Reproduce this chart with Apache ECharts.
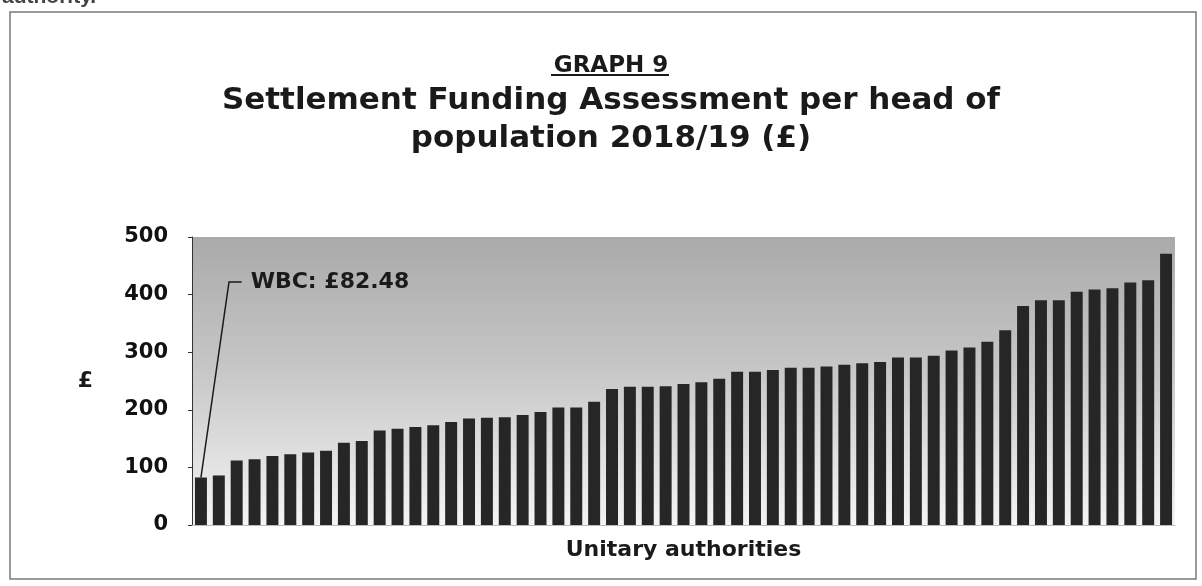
<!DOCTYPE html>
<html>
<head>
<meta charset="utf-8">
<script src="https://cdn.jsdelivr.net/npm/echarts@6/dist/echarts.min.js"></script>
<style>
html,body{margin:0;padding:0;background:#fff;}
#c{width:1202px;height:586px;}
</style>
</head>
<body>
<div id="c"></div>
<script>
// ---- data ----
var categories = [];
var values = [82.48, 86, 112, 114, 120, 123, 126, 129, 143, 146, 164, 167, 170, 173, 179,
  185, 186, 187, 191, 196, 204, 204, 214, 236, 240, 240, 241, 245, 248, 254,
  266, 266, 269, 273, 273, 275, 278, 281, 283, 291, 291, 294, 303, 308, 318,
  338, 380, 390, 390, 405, 409, 411, 421, 425, 471];
for (var i = 0; i < values.length; i++) categories.push(i === 0 ? 'WBC' : 'UA ' + (i + 1));
var yTicks = [0, 100, 200, 300, 400, 500];
var annotationText = 'WBC: £82.48';
var annotationLevel = 422;   // value level of the leader line's elbow

var FONT = '"DejaVu Sans", sans-serif';
var TITLE_X = 606;
var chart = echarts.init(document.getElementById('c'), null, {renderer: 'canvas'});

var baseGraphics = [
  {
    type: 'rect', z: -10, silent: true,
    shape: {x: 10, y: 12, width: 1186, height: 567},
    style: {fill: 'none', stroke: '#7a7a7a', lineWidth: 1.5}
  },
  {
    type: 'text', z: -10, silent: true, x: 2, y: -13,
    style: {text: 'authority.', font: 'bold 21px "Liberation Sans", Arial, sans-serif', fill: '#444'}
  }
];

var option = {
  animation: false,
  backgroundColor: '#ffffff',
  title: [
    {
      text: 'GRAPH 9', left: TITLE_X, textAlign: 'center', top: 50,
      textStyle: {fontFamily: FONT, fontWeight: 'bold', fontSize: 23, color: '#1a1a1a'}
    },
    {
      text: 'Settlement Funding Assessment per head of',
      left: TITLE_X, textAlign: 'center', top: 80,
      textStyle: {fontFamily: FONT, fontWeight: 'bold', fontSize: 31, color: '#1a1a1a'}
    },
    {
      text: 'population 2018/19 (£)',
      left: TITLE_X, textAlign: 'center', top: 118,
      textStyle: {fontFamily: FONT, fontWeight: 'bold', fontSize: 31, color: '#1a1a1a'}
    }
  ],
  grid: {
    left: 192, right: 27, top: 237, bottom: 61,
    show: true, borderWidth: 0,
    backgroundColor: {
      type: 'linear', x: 0, y: 0, x2: 0, y2: 1,
      colorStops: [
        {offset: 0, color: '#aaaaaa'},
        {offset: 0.45, color: '#c6c6c6'},
        {offset: 1, color: '#f4f4f4'}
      ]
    }
  },
  xAxis: {
    type: 'category', data: categories,
    name: 'Unitary authorities', nameLocation: 'middle', nameGap: 14,
    nameTextStyle: {fontFamily: FONT, fontWeight: 'bold', fontSize: 22, color: '#1a1a1a'},
    axisLine: {show: true, lineStyle: {color: '#bbbbbb', width: 1}},
    axisTick: {show: false},
    axisLabel: {show: false},
    splitLine: {show: false}
  },
  yAxis: {
    type: 'value', min: yTicks[0], max: yTicks[yTicks.length - 1], interval: yTicks[1] - yTicks[0],
    name: '£', nameLocation: 'middle', nameGap: 99, nameRotate: 0,
    nameTextStyle: {fontFamily: FONT, fontWeight: 'bold', fontSize: 22, color: '#1a1a1a'},
    axisLine: {show: true, lineStyle: {color: '#333333', width: 1}},
    axisTick: {show: true, inside: false, length: 4, lineStyle: {color: '#333333'}},
    axisLabel: {fontFamily: FONT, fontWeight: 'bold', fontSize: 21, color: '#111111', margin: 24},
    splitLine: {show: false}
  },
  series: [{
    type: 'bar', data: values,
    barWidth: '67%',
    itemStyle: {color: '#262626'}
  }],
  graphic: baseGraphics
};
chart.setOption(option);

// leader line + annotation derived from the chart's scales
var p0 = chart.convertToPixel({seriesIndex: 0}, [0, values[0]]);
var p1 = chart.convertToPixel({seriesIndex: 0}, [1, annotationLevel]);
var step = p1[0] - p0[0];
var elbowX = p0[0] + 1.57 * step;
var endX = p0[0] + 2.28 * step;
var yA = p1[1];
var ulHalf = 59;
chart.setOption({
  graphic: baseGraphics.concat([
    {
      type: 'line', silent: true,
      shape: {x1: TITLE_X + 4 - ulHalf, y1: 75, x2: TITLE_X + 4 + ulHalf, y2: 75},
      style: {stroke: '#1a1a1a', lineWidth: 2}
    },
    {
      type: 'polyline', silent: true, z: 100,
      shape: {points: [[p0[0], p0[1]], [elbowX, yA], [endX, yA]]},
      style: {stroke: '#1a1a1a', lineWidth: 1.5, fill: 'none'}
    },
    {
      type: 'text', silent: true, z: 100,
      x: endX + 9, y: yA,
      style: {text: annotationText, font: 'bold 22px ' + FONT, fill: '#1a1a1a', verticalAlign: 'middle', align: 'left'}
    }
  ])
}, {replaceMerge: ['graphic']});
</script>
</body>
</html>
